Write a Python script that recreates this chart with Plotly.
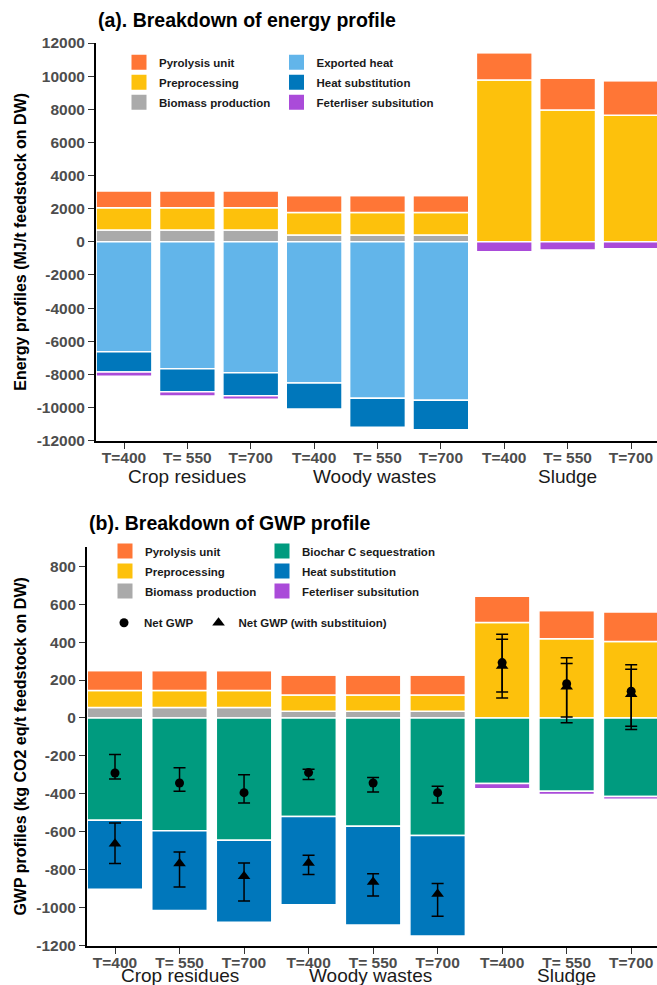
import plotly.graph_objects as go

# ---------------------------------------------------------------- data
temps = ["T=400", "T= 550", "T=700"] * 3
feedstocks = ["Crop residues", "Woody wastes", "Sludge"]
feedstock_pos = [1.0, 3.96, 7.0]          # label anchor, in bar-index units
positions = list(range(len(temps)))

# (a) energy profile, MJ/t feedstock on DW
e_biomass = [715, 715, 715, 420, 420, 420, 0, 0, 0]
e_preproc = [1345, 1345, 1345, 1355, 1355, 1355, 9760, 7960, 7640]
e_pyrolysis = [1015, 1015, 1015, 1020, 1020, 1020, 1660, 1925, 2100]
e_exported = [-6625, -7665, -7900, -8525, -9435, -9555, 0, 0, 0]
e_heat_sub = [-1225, -1385, -1385, -1560, -1760, -1785, 0, 0, 0]
e_fert_sub = [-260, -245, -220, 0, 0, 0, -590, -490, -410]

# (b) GWP profile, kg CO2 eq/t feedstock on DW
g_biomass = [55, 55, 55, 36, 36, 36, 0, 0, 0]
g_preproc = [90, 90, 90, 85, 85, 85, 504, 418, 403]
g_pyrolysis = [105, 105, 105, 106, 106, 106, 138, 149, 157]
g_cseq = [-540, -595, -645, -520, -571, -620, -346, -386, -414]
g_heat_sub = [-364, -420, -432, -465, -521, -530, 0, 0, 0]
g_fert_sub = [0, 0, 0, 0, 0, 0, -27, -18, -15]

net_gwp = [-290, -343, -394, -288, -343, -394, 292, 181, 141]
net_gwp_hi = [-193, -262, -299, -271, -314, -360, 441, 318, 280]
net_gwp_lo = [-322, -387, -448, -325, -390, -448, 137, 5, -44]

net_sub = [-663, -768, -835, -765, -865, -928, 274, 164, 125]
net_sub_hi = [-554, -707, -765, -724, -821, -873, 415, 287, 257]
net_sub_lo = [-768, -891, -965, -826, -939, -1046, 105, -25, -61]

energy_ticks = list(range(-12000, 12001, 2000))
gwp_ticks = list(range(-1200, 801, 200))

# ---------------------------------------------------------------- style
W, H = 657, 985
ML = 87
FONT = "Liberation Sans, Arial, sans-serif"

C_PYRO = "#FF7636"
C_PRE = "#FDC10C"
C_BIO = "#AAAAAA"
C_EXP = "#62B5EA"
C_HEAT = "#0077BB"
C_FERT = "#AA4BD9"
C_CSEQ = "#009B7F"


def px_x(px):
    return (px - ML) / (W - ML)


def px_y(py):
    return 1 - py / H


fig = go.Figure()


def add_bars(vals, color, xa, ya, width):
    fig.add_trace(go.Bar(
        x=positions, y=vals, xaxis=xa, yaxis=ya, width=width,
        marker=dict(color=color, line=dict(color="white", width=1.5)),
        showlegend=False, hoverinfo="y",
    ))


def add_key(name, color, legend):
    fig.add_trace(go.Scatter(
        x=[None], y=[None], mode="markers", name=name,
        legend=legend, legendgroup=name,
        marker=dict(symbol="square", size=15, color=color),
    ))


# stacking order: positives from 0 upward, negatives from 0 downward
for vals, col in [(e_biomass, C_BIO), (e_preproc, C_PRE), (e_pyrolysis, C_PYRO),
                  (e_exported, C_EXP), (e_heat_sub, C_HEAT), (e_fert_sub, C_FERT)]:
    add_bars(vals, col, "x", "y", 0.88)

for vals, col in [(g_biomass, C_BIO), (g_preproc, C_PRE), (g_pyrolysis, C_PYRO),
                  (g_cseq, C_CSEQ), (g_heat_sub, C_HEAT), (g_fert_sub, C_FERT)]:
    add_bars(vals, col, "x2", "y2", 0.86)

# net GWP points with asymmetric error bars
err_common = dict(type="data", symmetric=False, color="black", thickness=1.5, width=6)
fig.add_trace(go.Scatter(
    x=positions, y=net_gwp, xaxis="x2", yaxis="y2", mode="markers",
    name="Net GWP", legend="legend5",
    marker=dict(symbol="circle", size=9, color="black"),
    error_y=dict(array=[h - v for h, v in zip(net_gwp_hi, net_gwp)],
                 arrayminus=[v - l for v, l in zip(net_gwp, net_gwp_lo)], **err_common),
))
fig.add_trace(go.Scatter(
    x=positions, y=net_sub, xaxis="x2", yaxis="y2", mode="markers",
    name="Net GWP (with substituion)", legend="legend5",
    marker=dict(symbol="triangle-up", size=11, color="black"),
    error_y=dict(array=[h - v for h, v in zip(net_sub_hi, net_sub)],
                 arrayminus=[v - l for v, l in zip(net_sub, net_sub_lo)], **err_common),
))

# legend keys
for name, col in [("Pyrolysis unit", C_PYRO), ("Preprocessing", C_PRE),
                  ("Biomass production", C_BIO)]:
    add_key(name, col, "legend")
for name, col in [("Exported heat", C_EXP), ("Heat substitution", C_HEAT),
                  ("Feterliser subsitution", C_FERT)]:
    add_key(name, col, "legend2")
for name, col in [("Pyrolysis unit", C_PYRO), ("Preprocessing", C_PRE),
                  ("Biomass production", C_BIO)]:
    add_key(name, col, "legend3")
for name, col in [("Biochar C sequestration", C_CSEQ), ("Heat substitution", C_HEAT),
                  ("Feterliser subsitution", C_FERT)]:
    add_key(name, col, "legend4")

# ---------------------------------------------------------------- axes
tickfont = dict(family=FONT, size=15.5, color="#4D4D4D", weight="bold")
xcommon = dict(
    tickmode="array", tickvals=positions, ticktext=temps,
    showline=True, linecolor="black", linewidth=2, mirror=False,
    ticks="outside", ticklen=6, tickwidth=1, tickcolor="#333333",
    ticklabelstandoff=-4,
    showgrid=False, zeroline=False, tickfont=tickfont, fixedrange=True,
    automargin=False,
)
ycommon = dict(
    showline=True, linecolor="black", linewidth=2,
    ticks="outside", ticklen=6, tickwidth=1, tickcolor="#333333",
    showgrid=False, zeroline=False, tickfont=tickfont, fixedrange=True,
    automargin=False,
)
ytitle_font = dict(family=FONT, size=16, color="black", weight="bold")

legend_common = dict(
    orientation="v", xanchor="left", yanchor="top", traceorder="grouped",
    tracegroupgap=1, bgcolor="rgba(0,0,0,0)", borderwidth=0,
    font=dict(family=FONT, size=11.5, color="#1A1A1A", weight="bold"),
)

fig.update_layout(
    width=W, height=H,
    margin=dict(l=ML, r=0, t=0, b=0, pad=0, autoexpand=False),
    paper_bgcolor="white", plot_bgcolor="white",
    barmode="relative",
    font=dict(family=FONT),
    xaxis=dict(domain=[px_x(96), 1], range=[-0.442, 8.41], anchor="y", **xcommon),
    yaxis=dict(domain=[px_y(440.7), px_y(43)], range=[-12000, 12000], anchor="x",
               tickmode="array", tickvals=energy_ticks,
               ticktext=[str(v) for v in energy_ticks],
               title=dict(text="Energy profiles (MJ/t feedstock on DW)",
                          font=ytitle_font, standoff=6),
               **ycommon),
    xaxis2=dict(domain=[0, 1], range=[-0.434, 8.40], anchor="y2", **xcommon),
    yaxis2=dict(domain=[px_y(945.5), px_y(547.3)], range=[-1200, 900], anchor="x2",
                tickmode="array", tickvals=gwp_ticks,
                ticktext=[str(v) for v in gwp_ticks],
                title=dict(text="GWP profiles (kg CO2 eq/t feedstock on DW)",
                           font=ytitle_font, standoff=6),
                **ycommon),
    legend=dict(x=px_x(119), y=px_y(47.8), **legend_common),
    legend2=dict(x=px_x(276.5), y=px_y(47.8), **legend_common),
    legend3=dict(x=px_x(105), y=px_y(536.5), **legend_common),
    legend4=dict(x=px_x(262), y=px_y(536.5), **legend_common),
    legend5=dict(x=px_x(104), y=px_y(608.2), orientation="h", xanchor="left",
                 yanchor="top", bgcolor="rgba(0,0,0,0)", borderwidth=0,
                 font=dict(family=FONT, size=11.5, color="#1A1A1A", weight="bold")),
)

# ---------------------------------------------------------------- text
annotations = [
    dict(text="(a). Breakdown of energy profile", x=px_x(96), y=px_y(20),
         xref="paper", yref="paper", xanchor="left", yanchor="middle",
         showarrow=False, font=dict(family=FONT, size=19.5, color="black", weight="bold")),
    dict(text="(b). Breakdown of GWP profile", x=px_x(87), y=px_y(523),
         xref="paper", yref="paper", xanchor="left", yanchor="middle",
         showarrow=False, font=dict(family=FONT, size=19.5, color="black", weight="bold")),
]
for name, xp in zip(feedstocks, feedstock_pos):
    annotations.append(dict(text=name, x=xp, xref="x", y=px_y(476), yref="paper",
                            xanchor="center", yanchor="middle", showarrow=False,
                            font=dict(family=FONT, size=19, color="#1A1A1A")))
    annotations.append(dict(text=name, x=xp, xref="x2", y=px_y(975), yref="paper",
                            xanchor="center", yanchor="middle", showarrow=False,
                            font=dict(family=FONT, size=19, color="#1A1A1A")))
fig.update_layout(annotations=annotations)

fig.write_html("out.html")
